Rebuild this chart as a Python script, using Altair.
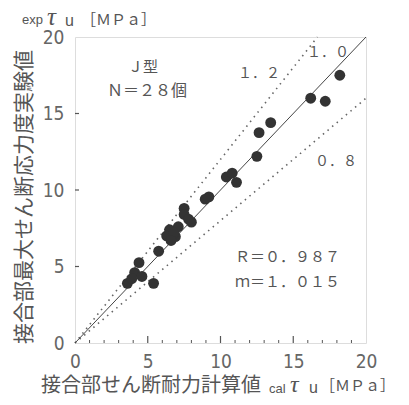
import altair as alt
import pandas as pd

# measured points (calτu, expτu) [MPa]
cal_tau = [18.2, 16.2, 17.2, 13.45, 12.65, 12.5, 10.4, 10.8, 11.1, 9.2, 8.95,
           7.5, 7.5, 8.0, 7.8, 7.1, 6.5, 6.9, 6.3, 6.8, 6.6, 5.75, 4.4, 4.1,
           4.6, 3.6, 5.4, 3.9]
exp_tau = [17.5, 16.0, 15.8, 14.4, 13.75, 12.2, 10.85, 11.1, 10.5, 9.55, 9.4,
           8.8, 8.4, 7.9, 8.1, 7.6, 7.4, 6.95, 7.0, 7.2, 6.7, 6.0, 5.25, 4.6,
           4.35, 3.9, 3.9, 4.2]

ratios = [1.0, 1.2, 0.8]
axis_max = 20
tick_labels = [0, 5, 10, 15, 20]
minor_ticks = [v for v in range(0, 21) if v % 5 != 0]
major_ticks = [5, 10, 15]

ann_text = ["１．０", "１．２", "０．８", "Ｊ型", "Ｎ＝２８個", "Ｒ＝０．９８７", "ｍ＝１．０１５"]
ann_x = [15.95, 11.2, 16.5, 3.64, 2.2, 11.0, 11.0]
ann_y = [18.95, 17.6, 11.86, 18.04, 16.5, 5.62, 3.99]
ann_size = [14, 14, 14, 15, 16, 15, 15]

W, H = 291, 306
pts = pd.DataFrame({"cal": cal_tau, "exp": exp_tau})
lines = pd.DataFrame([
    {"k": str(k), "x": x, "y": k * x}
    for k in ratios for x in (0, min(axis_max, axis_max / k))
])
ann = pd.DataFrame({"t": ann_text, "x": ann_x, "y": ann_y, "s": ann_size})

xs = alt.Scale(domain=[0, 20], nice=False, zero=True)
ys = alt.Scale(domain=[0, 20], nice=False, zero=True)

lab_font = "DejaVu Sans Condensed"
xaxis = alt.Axis(values=tick_labels, ticks=False, domain=False, grid=False, title=None,
                 labelFont=lab_font, labelFontSize=19, labelColor="#666",
                 labelFontWeight=300, labelPadding=9, labelFlush=False)
yaxis = alt.Axis(values=tick_labels, ticks=False, domain=False, grid=False, title=None,
                 labelFont=lab_font, labelFontSize=19, labelColor="#666",
                 labelFontWeight=300, labelPadding=11, labelFlush=False)

base_pts = alt.Chart(pts).mark_circle(size=118, color="#333", opacity=1).encode(
    x=alt.X("cal:Q", scale=xs, axis=xaxis),
    y=alt.Y("exp:Q", scale=ys, axis=yaxis),
)

solid = alt.Chart(lines[lines.k == "1.0"]).mark_line(color="#444", strokeWidth=1).encode(
    x=alt.X("x:Q", scale=xs), y=alt.Y("y:Q", scale=ys), detail="k:N")
dotted = alt.Chart(lines[lines.k != "1.0"]).mark_line(
    color="#666", strokeWidth=1.6, strokeDash=[1.5, 4.5]).encode(
    x=alt.X("x:Q", scale=xs), y=alt.Y("y:Q", scale=ys), detail="k:N")

ann_layer = alt.Chart(ann).mark_text(
    align="left", baseline="middle", font="Noto Sans CJK JP", color="#555").encode(
    x=alt.X("x:Q", scale=xs), y=alt.Y("y:Q", scale=ys), text="t:N",
    size=alt.Size("s:Q", scale=None, legend=None))

xt = pd.DataFrame({"v": minor_ticks})
xT = pd.DataFrame({"v": major_ticks})
minor_x = alt.Chart(xt).mark_rule(color="#555", strokeWidth=1).encode(
    x=alt.X("v:Q", scale=xs), y=alt.value(H), y2=alt.value(H - 3))
major_x = alt.Chart(xT).mark_rule(color="#555", strokeWidth=1.2).encode(
    x=alt.X("v:Q", scale=xs), y=alt.value(H), y2=alt.value(H - 7))
major_y = alt.Chart(xT).mark_rule(color="#555", strokeWidth=1.2).encode(
    y=alt.Y("v:Q", scale=ys), x=alt.value(0), x2=alt.value(4))

# title pieces
def piece(text, px, py, size, font, style="normal", angle=0, align="left"):
    return alt.Chart(pd.DataFrame({"t": [text]})).mark_text(
        align=align, baseline="middle", font=font, fontSize=size, fontStyle=style,
        color="#555", angle=angle).encode(
        text="t:N", x=alt.value(px), y=alt.value(py))

cjk = "Noto Sans CJK JP"
sans = "Liberation Sans"
serif = "Liberation Serif"
titles = [
    piece("exp", -53, -17, 13, sans),
    piece("τ", -28, -20, 25, serif, "italic"),
    piece("u", -10, -16, 16, sans),
    piece("［ＭＰａ］", 6, -17, 15, cjk),
    piece("接合部せん断耐力計算値", -34, 349, 20, cjk),
    piece("cal", 194, 352, 13, sans),
    piece("τ", 215, 348, 24, serif, "italic"),
    piece("u", 234, 351, 16, sans),
    piece("［ＭＰａ］", 245, 349, 15, cjk),
    piece("接合部最大せん断応力度実験値", -50, 160, 21, cjk, angle=270, align="center"),
]

chart = alt.layer(
    dotted, solid, base_pts, ann_layer, minor_x, major_x, major_y, *titles
).properties(
    width=W, height=H,
    autosize=alt.AutoSizeParams(type="none"),
    padding={"left": 67, "top": 29, "right": 35, "bottom": 55},
).configure_view(stroke="#555", strokeWidth=1.2).configure(background="white")

chart.save("out.html", embed_options={"renderer": "svg", "actions": False})
